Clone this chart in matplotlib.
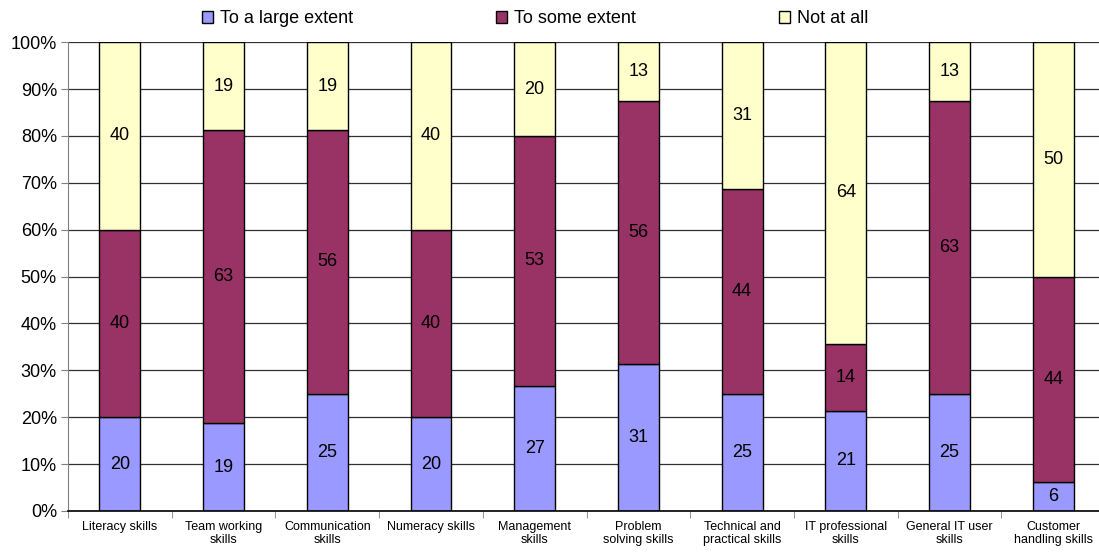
import numpy as np
import matplotlib.pyplot as plt

plt.rcParams['font.family'] = ['Liberation Sans', 'DejaVu Sans']

# skills and shares (percent of respondents)
categories = ['Literacy skills', 'Team working\nskills', 'Communication\nskills',
              'Numeracy skills', 'Management\nskills', 'Problem\nsolving skills',
              'Technical and\npractical skills', 'IT professional\nskills',
              'General IT user\nskills', 'Customer\nhandling skills']
large_extent = [20, 18.75, 25, 20, 26.7, 31.25, 25, 21.4, 25, 6.25]
some_extent = [40, 62.5, 56.25, 40, 53.3, 56.25, 43.75, 14.3, 62.5, 43.75]
not_at_all = [40, 18.75, 18.75, 40, 20, 12.5, 31.25, 64.3, 12.5, 50]
series_names = ['To a large extent', 'To some extent', 'Not at all']
colors = ['#9999FF', '#993366', '#FFFFCC']

fig = plt.figure(figsize=(10.99, 5.56), dpi=100)
# plot area runs a little past the right edge, as in the original
ax = fig.add_axes([0.0619, 0.081, 0.9436, 0.843])

x = np.arange(len(categories))
bottom = np.zeros(len(categories))
handles = []
for vals, name, col in zip([large_extent, some_extent, not_at_all], series_names, colors):
    vals = np.array(vals)
    bars = ax.bar(x, vals, 0.395, bottom=bottom, color=col, edgecolor='black',
                  linewidth=1.0, label=name, zorder=3)
    handles.append(bars)
    for xi, b, v in zip(x, bottom, vals):
        ax.text(xi, b + v / 2, f'{int(v + 0.5)}', ha='center', va='center',
                fontsize=13, zorder=4)
    bottom += vals

ax.set_xlim(-0.5, len(categories) - 0.5)
ax.set_ylim(0, 100)
ax.set_yticks(np.arange(0, 101, 10))
ax.set_yticklabels([f'{t}%' for t in range(0, 101, 10)], fontsize=13)
ax.yaxis.grid(True, color='#303030', linewidth=0.9)
ax.set_axisbelow(True)

ax.set_xticks(x)
ax.set_xticklabels(categories, fontsize=9)
ax.set_xticks(np.arange(-0.5, len(categories), 1), minor=True)
ax.tick_params(axis='x', which='major', length=0, pad=7)
ax.tick_params(axis='x', which='minor', length=5, color='#808080', direction='out')
ax.tick_params(axis='y', length=5, color='#808080', direction='out', pad=3)

for s in ['top', 'right']:
    ax.spines[s].set_visible(False)
ax.spines['left'].set_color('#808080')
ax.spines['bottom'].set_color('black')
ax.spines['bottom'].set_linewidth(1.2)
ax.spines['bottom'].set_zorder(5)

fig.legend(handles=handles, labels=series_names, loc='center', ncol=3,
           bbox_to_anchor=(0.487, 0.966), frameon=False, fontsize=13,
           handlelength=0.6, handleheight=0.6, handletextpad=0.4, columnspacing=7.9)

fig.savefig('out.png', dpi=100)
